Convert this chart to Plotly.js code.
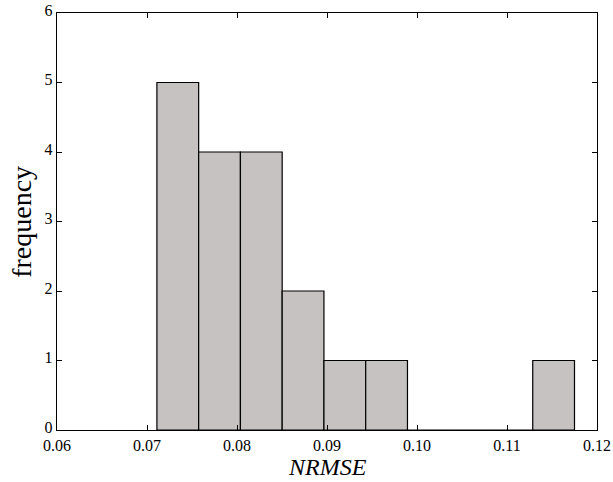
<!DOCTYPE html>
<html>
<head>
<meta charset="utf-8">
<script src="https://cdn.plot.ly/plotly-3.0.1.min.js"></script>
<style>html,body{margin:0;padding:0;background:#fff;}#chart{width:613px;height:482px;}</style>
</head>
<body>
<div id="chart"></div>
<script>
// Histogram bin edges and counts
const binLeft = [0.0711, 0.07574, 0.08038, 0.08502, 0.08966, 0.0943, 0.09894, 0.10358, 0.10822, 0.11286];
const binRight = [0.07574, 0.08038, 0.08502, 0.08966, 0.0943, 0.09894, 0.10358, 0.10822, 0.11286, 0.1175];
const counts = [5, 4, 4, 2, 1, 1, 0, 0, 0, 1];
const xTickVals = [0.06, 0.07, 0.08, 0.09, 0.10, 0.11, 0.12];
const xTickText = ['0.06', '0.07', '0.08', '0.09', '0.10', '0.11', '0.12'];
const yTickVals = [0, 1, 2, 3, 4, 5, 6];
const xTitle = 'NRMSE';
const yTitle = 'frequency';

const centers = binLeft.map((l, i) => (l + binRight[i]) / 2);
const widths = binLeft.map((l, i) => binRight[i] - l);

const trace = {
  type: 'bar',
  x: centers,
  y: counts,
  width: widths,
  marker: {color: '#c6c2c2', line: {color: '#000', width: 1.2}},
  hoverinfo: 'x+y'
};

const font = 'Liberation Serif, serif';
const layout = {
  width: 613, height: 482,
  margin: {l: 57, r: 16, t: 13, b: 52},
  paper_bgcolor: '#fff', plot_bgcolor: '#fff',
  showlegend: false,
  bargap: 0,
  font: {family: font, color: '#000', size: 17},
  xaxis: {
    range: [0.06, 0.12],
    tickvals: xTickVals, ticktext: xTickText,
    ticks: 'inside', ticklen: 5, tickcolor: '#000', tickwidth: 1,
    ticklabelstandoff: 1,
    showline: true, linecolor: '#000', linewidth: 1.2, mirror: 'ticks',
    showgrid: false, zeroline: false,
    tickfont: {size: 16, family: font}
  },
  yaxis: {
    range: [0, 6],
    tickvals: yTickVals,
    ticks: 'inside', ticklen: 5, tickcolor: '#000', tickwidth: 1,
    ticklabelshift: -3,
    showline: true, linecolor: '#000', linewidth: 1.2, mirror: 'ticks',
    showgrid: false, zeroline: false,
    tickfont: {size: 16, family: font}
  },
  annotations: [
    {text: '<i>' + xTitle + '</i>', xref: 'paper', yref: 'paper', x: 0.5, y: -0.0885,
     xanchor: 'center', yanchor: 'middle', showarrow: false, borderpad: 0,
     font: {size: 24, family: font, color: '#000'}},
    {text: yTitle, xref: 'paper', yref: 'paper', x: -0.066, y: 0.5, textangle: -90,
     xanchor: 'center', yanchor: 'middle', showarrow: false, borderpad: 0,
     font: {size: 28, family: font, color: '#000'}}
  ]
};

Plotly.newPlot('chart', [trace], layout, {displayModeBar: false, staticPlot: true});
</script>
</body>
</html>
